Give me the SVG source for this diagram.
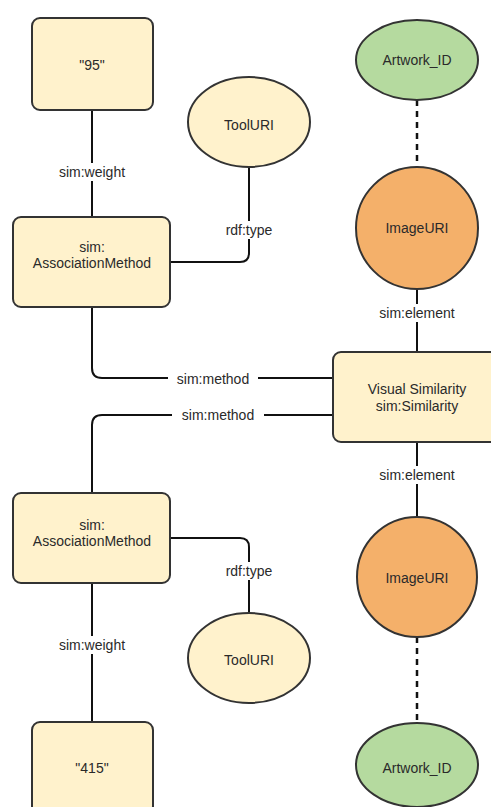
<svg xmlns="http://www.w3.org/2000/svg" width="491" height="807" viewBox="0 0 491 807">
<style>
.box{fill:#fff2cc;stroke:#333;stroke-width:2}
.tool{fill:#fff2cc;stroke:#333;stroke-width:2}
.green{fill:#b5da9f;stroke:#333;stroke-width:2}
.orange{fill:#f4b06a;stroke:#333;stroke-width:2}
.edge{fill:none;stroke:#111;stroke-width:2}
.dash{fill:none;stroke:#111;stroke-width:2.5;stroke-dasharray:6 5}
text{font-family:"Liberation Sans",Arial,sans-serif;font-size:14px;fill:#2a2a2a;text-anchor:middle;dominant-baseline:central}
.lbl{fill:#fff}
</style>
<rect width="491" height="807" fill="#fff"/>
<g id="connectors">
<line class="edge" x1="92" y1="110" x2="92" y2="217"/>
<rect class="lbl" x="54" y="163" width="76" height="18"/>
<text x="92" y="172">sim:weight</text>
<path class="edge" d="M249 167 V253 Q249 262 240 262 H170"/>
<rect class="lbl" x="218" y="221" width="62" height="18"/>
<text x="249" y="230">rdf:type</text>
<line class="dash" x1="417" y1="100" x2="417" y2="167"/>
<line class="edge" x1="417" y1="289" x2="417" y2="352"/>
<rect class="lbl" x="374" y="304" width="86" height="18"/>
<text x="417" y="313">sim:element</text>
<path class="edge" d="M92 307 V368 Q92 378 102 378 H333"/>
<rect class="lbl" x="168" y="369" width="90" height="18"/>
<text x="213" y="379">sim:method</text>
<path class="edge" d="M333 415 H102 Q92 415 92 425 V493"/>
<rect class="lbl" x="172" y="406" width="92" height="18"/>
<text x="218" y="415">sim:method</text>
<line class="edge" x1="417" y1="442" x2="417" y2="517"/>
<rect class="lbl" x="374" y="466" width="86" height="18"/>
<text x="417" y="475">sim:element</text>
<path class="edge" d="M170 538 H240 Q249 538 249 547 V613"/>
<rect class="lbl" x="218" y="562" width="62" height="18"/>
<text x="249" y="571">rdf:type</text>
<line class="edge" x1="92" y1="583" x2="92" y2="722"/>
<rect class="lbl" x="54" y="636" width="76" height="18"/>
<text x="92" y="645">sim:weight</text>
<line class="dash" x1="417" y1="637" x2="417" y2="723"/>
</g>
<g id="n95"><rect class="box" x="32" y="18" width="121" height="92" rx="8"/><text x="92" y="65">"95"</text></g>
<g id="toolTop"><ellipse class="tool" cx="249" cy="122" rx="61" ry="45"/><text x="249" y="125">ToolURI</text></g>
<g id="artTop"><ellipse class="green" cx="417" cy="60" rx="61" ry="40"/><text x="417" y="60">Artwork_ID</text></g>
<g id="assocTop"><rect class="box" x="13" y="217" width="157" height="90" rx="8"/><text x="92" y="247">sim:</text><text x="92" y="263">AssociationMethod</text></g>
<g id="imgTop"><circle class="orange" cx="417" cy="228" r="61"/><text x="417" y="228">ImageURI</text></g>
<g id="similarity"><rect class="box" x="333" y="352" width="168" height="90" rx="8"/><text x="417" y="389">Visual Similarity</text><text x="417" y="406">sim:Similarity</text></g>
<g id="assocBot"><rect class="box" x="13" y="493" width="157" height="90" rx="8"/><text x="92" y="525">sim:</text><text x="92" y="541">AssociationMethod</text></g>
<g id="imgBot"><circle class="orange" cx="417" cy="577" r="60"/><text x="417" y="578">ImageURI</text></g>
<g id="toolBot"><ellipse class="tool" cx="249" cy="658" rx="61" ry="45"/><text x="249" y="660">ToolURI</text></g>
<g id="n415"><rect class="box" x="32" y="722" width="121" height="92" rx="8"/><text x="92" y="768">"415"</text></g>
<g id="artBot"><ellipse class="green" cx="417" cy="765" rx="61" ry="42"/><text x="417" y="768">Artwork_ID</text></g>
</svg>
